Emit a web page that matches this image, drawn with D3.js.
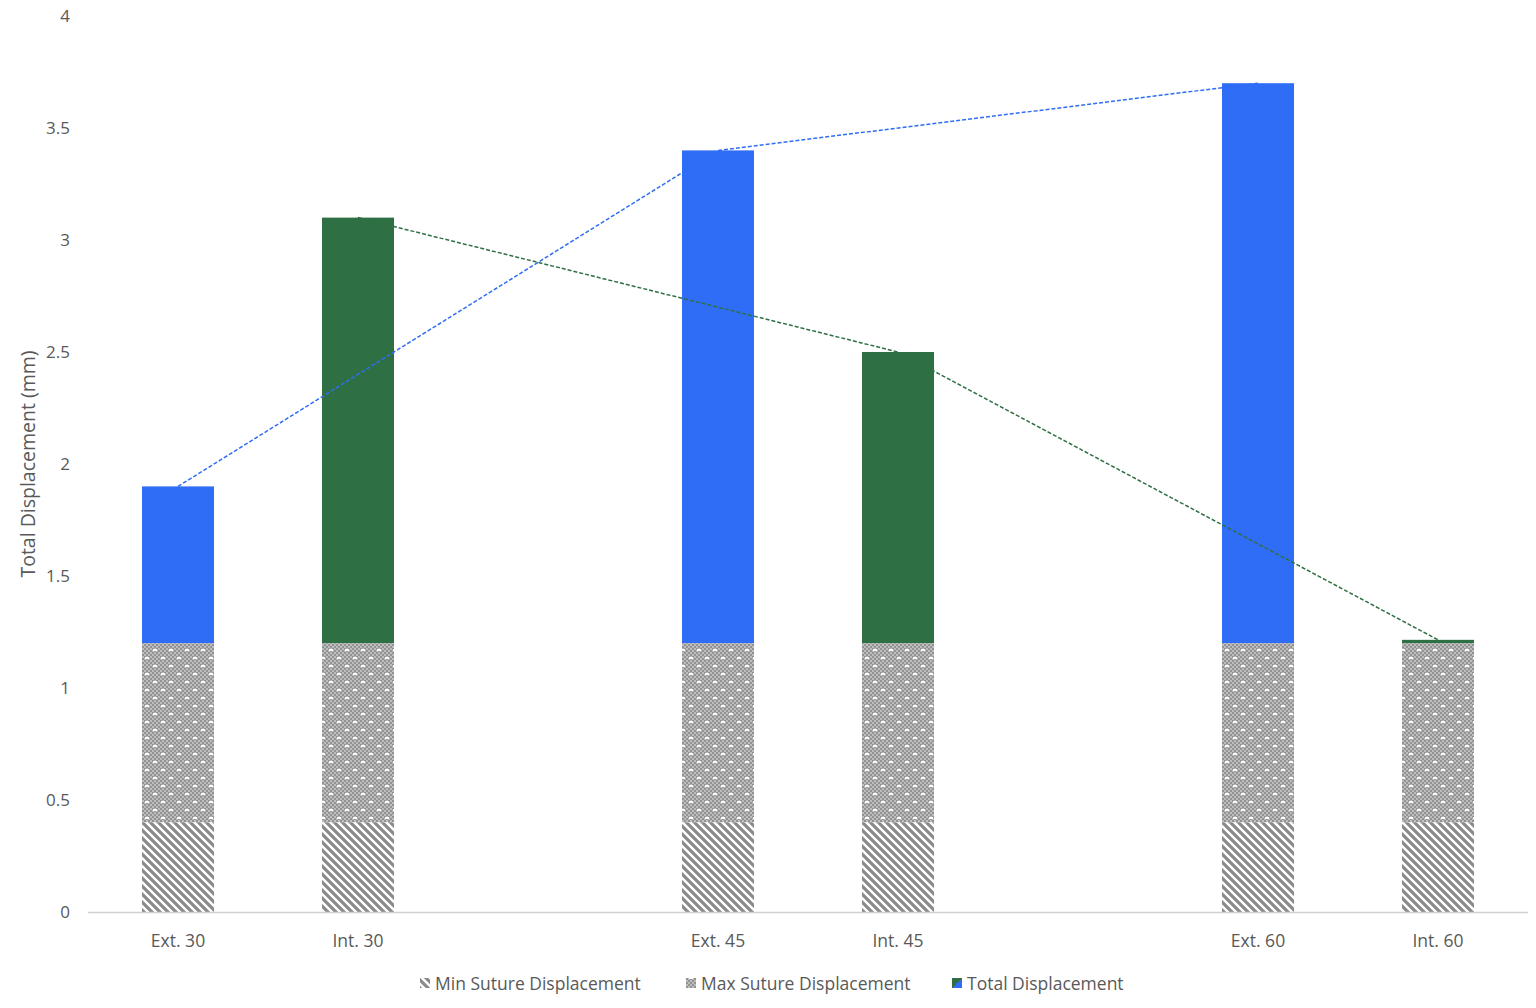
<!DOCTYPE html>
<html>
<head>
<meta charset="utf-8">
<script src="https://cdn.jsdelivr.net/npm/d3@7"></script>
<style>
    body { margin: 0; background: #fff; }
    #chart { width: 1536px; height: 1008px; }
    text { font-family: "Open Sans", "DejaVu Sans", sans-serif; }
</style>
</head>
<body>
<div id="chart"></div>
<script>
/**
 * Displacement by suture position (Ext./Int.) and angle.
 * Hatched min/max suture bars, total displacement on top,
 * dashed lines joining totals of the Ext. and Int. groups.
 */

// Slots along the x axis (empty strings are the gaps between angle groups)
var slots = ['Ext. 30', 'Int. 30', '', 'Ext. 45', 'Int. 45', '', 'Ext. 60', 'Int. 60'];
var categories = ['Ext. 30', 'Int. 30', 'Ext. 45', 'Int. 45', 'Ext. 60', 'Int. 60'];
var groups = ['Ext', 'Int', 'Ext', 'Int', 'Ext', 'Int'];

var minSuture = [0.4, 0.4, 0.4, 0.4, 0.4, 0.4];
var maxSuture = [1.2, 1.2, 1.2, 1.2, 1.2, 1.2];
var totalDisp = [1.9, 3.1, 3.4, 2.5, 3.7, 1.215];

var yTicks = [0, 0.5, 1, 1.5, 2, 2.5, 3, 3.5, 4];
var legendLabels = ['Min Suture Displacement', 'Max Suture Displacement', 'Total Displacement'];

var COLORS = { Ext: '#2f6df6', Int: '#2e7043' };
var TEXT = '#595959';

function renderChart() {
    var width = 1536, height = 1008;
    var margin = { top: 16, right: 8, bottom: 96, left: 88 };

    var svg = d3.select('#chart').append('svg')
        .attr('width', width)
        .attr('height', height);

    var defs = svg.append('defs');

    // Min suture: wide downward diagonal
    var p1 = defs.append('pattern')
        .attr('id', 'pat-min')
        .attr('patternUnits', 'userSpaceOnUse')
        .attr('width', 8).attr('height', 8);
    p1.append('rect').attr('width', 8).attr('height', 8).attr('fill', '#fff');
    p1.append('path')
        .attr('d', 'M-2,-2L10,10M-2,6L2,10M6,-2L10,2')
        .attr('stroke', '#8a8a8a')
        .attr('stroke-width', 3.2);

    // Max suture: fine grey checker with white dots
    var p2 = defs.append('pattern')
        .attr('id', 'pat-max')
        .attr('patternUnits', 'userSpaceOnUse')
        .attr('width', 16).attr('height', 16);
    p2.append('rect').attr('width', 16).attr('height', 16).attr('fill', '#bdbdbd');
    for (var i = 0; i < 16; i += 2) {
        for (var j = 0; j < 16; j += 2) {
            if (((i + j) / 2) % 2 === 0) {
                p2.append('rect').attr('x', i).attr('y', j)
                    .attr('width', 2).attr('height', 2).attr('fill', '#939393');
            }
        }
    }
    p2.append('rect').attr('x', 1).attr('y', 1).attr('width', 4).attr('height', 2).attr('fill', '#fff');
    p2.append('rect').attr('x', 9).attr('y', 9).attr('width', 4).attr('height', 2).attr('fill', '#fff');

    // Total legend swatch: split green / blue
    var lg = defs.append('linearGradient')
        .attr('id', 'grad-total')
        .attr('x1', 0).attr('y1', 0).attr('x2', 1).attr('y2', 1);
    lg.append('stop').attr('offset', '50%').attr('stop-color', COLORS.Int);
    lg.append('stop').attr('offset', '50%').attr('stop-color', COLORS.Ext);

    var x = d3.scaleBand()
        .domain(slots.map(function(d, i) { return i; }))
        .range([margin.left, width - margin.right])
        .paddingInner(0.6)
        .paddingOuter(0.3);

    var y = d3.scaleLinear()
        .domain([0, 4])
        .range([height - margin.bottom, margin.top]);

    function xPos(cat) { return x(slots.indexOf(cat)); }

    // Y axis (labels only)
    var yAxis = svg.append('g')
        .attr('transform', 'translate(' + (margin.left - 18) + ',0)')
        .call(d3.axisLeft(y).tickValues(yTicks).tickSize(0).tickFormat(d3.format('')));
    yAxis.select('.domain').remove();
    yAxis.selectAll('text')
        .attr('fill', TEXT)
        .attr('font-size', '17px')
        .attr('x', 0);

    svg.append('text')
        .attr('transform', 'translate(35,' + ((margin.top + height - margin.bottom) / 2) + ') rotate(-90)')
        .attr('text-anchor', 'middle')
        .attr('fill', TEXT)
        .attr('font-size', '19.5px')
        .text('Total Displacement (mm)');

    // Bars
    var bars = svg.append('g');
    categories.forEach(function(c, i) {
        var bx = xPos(c);
        bars.append('rect')
            .attr('x', bx).attr('width', x.bandwidth())
            .attr('y', y(totalDisp[i]))
            .attr('height', y(maxSuture[i]) - y(totalDisp[i]))
            .attr('fill', COLORS[groups[i]]);
        bars.append('rect')
            .attr('x', bx).attr('width', x.bandwidth())
            .attr('y', y(maxSuture[i]))
            .attr('height', y(minSuture[i]) - y(maxSuture[i]))
            .attr('fill', 'url(#pat-max)');
        bars.append('rect')
            .attr('x', bx).attr('width', x.bandwidth())
            .attr('y', y(minSuture[i]))
            .attr('height', y(0) - y(minSuture[i]))
            .attr('fill', 'url(#pat-min)');
    });

    // Dashed lines joining totals (on top of the bars)
    ['Ext', 'Int'].forEach(function(g) {
        var pts = [];
        categories.forEach(function(c, i) {
            if (groups[i] === g) pts.push([xPos(c) + x.bandwidth() / 2, y(totalDisp[i])]);
        });
        svg.append('path')
            .attr('d', d3.line()(pts))
            .attr('fill', 'none')
            .attr('stroke', COLORS[g])
            .attr('stroke-width', 1.5)
            .attr('stroke-dasharray', '4,2');
    });

    // X axis
    svg.append('line')
        .attr('x1', margin.left).attr('x2', width - margin.right)
        .attr('y1', y(0) + 0.5).attr('y2', y(0) + 0.5)
        .attr('stroke', '#d0d0d0')
        .attr('stroke-width', 1.5);

    svg.append('g').selectAll('text')
        .data(categories)
        .enter()
        .append('text')
        .attr('x', function(d) { return xPos(d) + x.bandwidth() / 2; })
        .attr('y', y(0) + 35)
        .attr('text-anchor', 'middle')
        .attr('fill', TEXT)
        .attr('font-size', '17.5px')
        .text(function(d) { return d; });

    // Legend
    var legendX = [420, 686, 952];
    var legendFill = ['url(#pat-min)', 'url(#pat-max)', 'url(#grad-total)'];
    var legend = svg.append('g');
    legendLabels.forEach(function(label, i) {
        legend.append('rect')
            .attr('x', legendX[i]).attr('y', 978)
            .attr('width', 10).attr('height', 10)
            .attr('fill', legendFill[i]);
        legend.append('text')
            .attr('x', legendX[i] + 15).attr('y', 990)
            .attr('fill', TEXT)
            .attr('font-size', '17.5px')
            .text(label);
    });
}

renderChart();
</script>
</body>
</html>
